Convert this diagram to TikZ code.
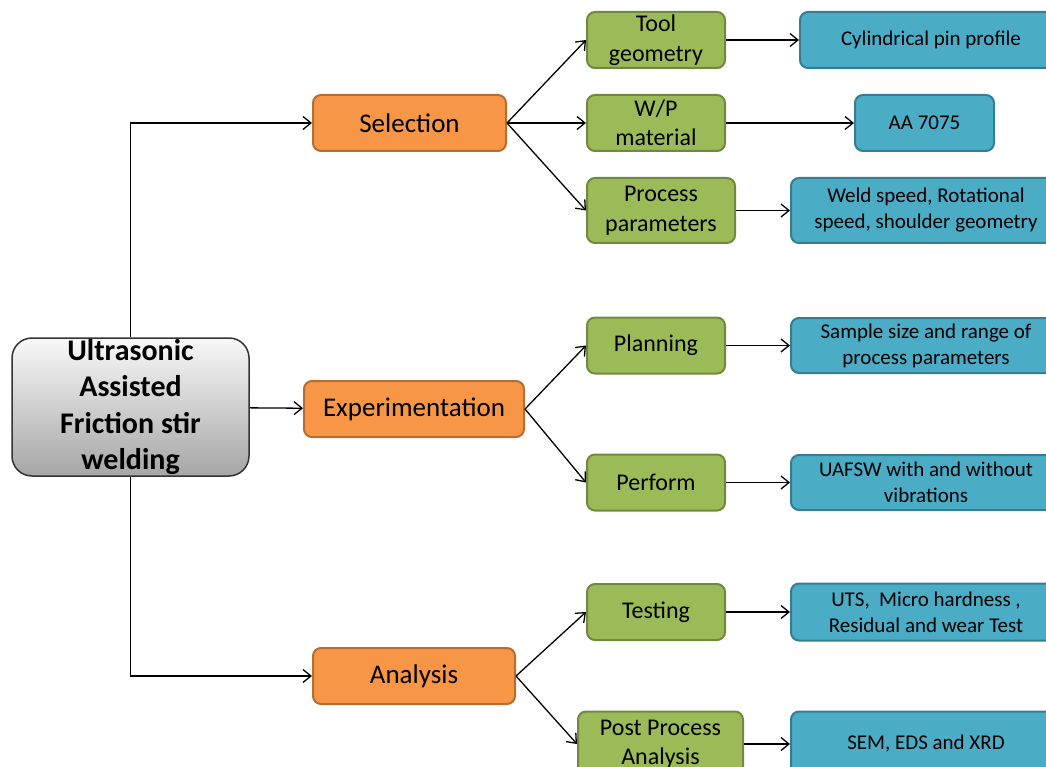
\documentclass[tikz,border=0pt]{standalone}
\usepackage{fontspec}
\setmainfont{Carlito}
\usetikzlibrary{arrows.meta,positioning}

\definecolor{orangefill}{HTML}{F79646}
\definecolor{orangeline}{HTML}{B66D31}
\definecolor{greenfill}{HTML}{9BBB59}
\definecolor{greenline}{HTML}{71893F}
\definecolor{bluefill}{HTML}{4BACC6}
\definecolor{blueline}{HTML}{357D91}

\begin{document}
\begin{tikzpicture}[
  x=1pt, y=-1pt,
  >={Straight Barb[length=8pt,width=13pt]},
  box/.style={
    rectangle, rounded corners=8pt, draw=#1line, fill=#1fill,
    line width=2pt, align=center, inner sep=0pt
  },
  mainbox/.style={
    rectangle, rounded corners=20pt, draw=black!80, line width=1.5pt,
    top color=gray!5, bottom color=gray!70, align=center, inner sep=0pt,
    minimum width=237pt, minimum height=138pt,
    font=\fontsize{30}{36.5}\selectfont\bfseries
  },
  stage/.style={box=orange, minimum height=56pt,
    font=\fontsize{27}{32}\selectfont},
  task/.style={box=green, minimum width=138pt, minimum height=56pt,
    font=\fontsize{24}{29.5}\selectfont},
  result/.style={box=blue, minimum width=270pt, minimum height=56pt,
    font=\fontsize{21}{26}\selectfont},
  arrow/.style={->, line width=1.3pt, black},
]
  \clip (0,0) rectangle (1046,767);

  % Root
  \node[mainbox] (root) at (130.5,407) {Ultrasonic\\Assisted\\Friction stir\\welding};

  % Stages
  \node[stage, minimum width=193pt] (sel) at (409.5,123) {Selection};
  \node[stage, minimum width=220pt] (exp) at (414,409) {Experimentation};
  \node[stage, minimum width=202pt] (ana) at (414,676) {Analysis};

  % Tasks
  \node[task] (tool) at (656,40) {Tool\\geometry};
  \node[task] (wp) at (656,123) {W/P\\material};
  \node[task, minimum width=148pt, minimum height=65pt] (proc) at (661,210.5) {Process\\parameters};
  \node[task] (plan) at (656,345.5) {Planning};
  \node[task] (perf) at (656,482.5) {Perform};
  \node[task] (test) at (656,612) {Testing};
  \node[task, minimum width=165pt, minimum height=65pt] (post) at (660.5,744) {Post Process\\Analysis};

  % Results
  \node[result, minimum width=262pt] (cyl) [right=73pt of tool] {Cylindrical pin profile};
  \node[result, minimum width=139pt] (aa) [right=128pt of wp] {AA 7075};
  \node[result, minimum height=65pt] (weld) [right=54pt of proc] {Weld speed, Rotational\\speed, shoulder geometry};
  \node[result, minimum height=55pt] (size) [right=64pt of plan] {Sample size and range of\\process parameters};
  \node[result, minimum height=55pt] (uafsw) [right=64pt of perf] {UAFSW with and without\\vibrations};
  \node[result, minimum height=57pt] (uts) [right=64pt of test] {UTS,\ \ Micro hardness ,\\Residual and wear Test};
  \node[result, minimum height=65pt] (sem) [right=46pt of post] {SEM, EDS and XRD};

  % Arrows: Root -> Stages
  \draw[arrow] (root) |- (sel);
  \draw[arrow] (root) -- (exp);
  \draw[arrow] (root) |- (ana);

  % Arrows: Stages -> Tasks
  \draw[arrow] (sel.east) -- (tool.west);
  \draw[arrow] (sel.east) -- (wp.west);
  \draw[arrow] (sel.east) -- (proc.west);
  \draw[arrow] (exp.east) -- (plan.west);
  \draw[arrow] (exp.east) -- (perf.west);
  \draw[arrow] (ana.east) -- (test.west);
  \draw[arrow] (ana.east) -- (post.west);

  % Arrows: Tasks -> Results
  \draw[arrow] (tool) -- (cyl);
  \draw[arrow] (wp) -- (aa);
  \draw[arrow] (proc) -- (weld);
  \draw[arrow] (plan) -- (size);
  \draw[arrow] (perf) -- (uafsw);
  \draw[arrow] (test) -- (uts);
  \draw[arrow] (post) -- (sem);
\end{tikzpicture}
\end{document}
